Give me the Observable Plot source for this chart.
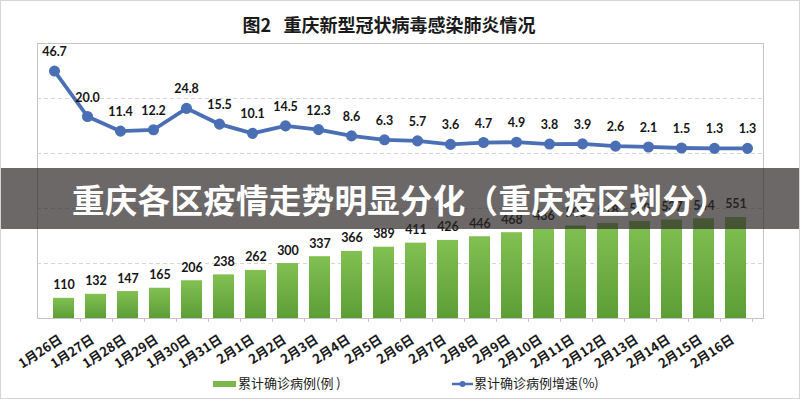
<!DOCTYPE html>
<html><head><meta charset="utf-8">
<script src="https://cdn.jsdelivr.net/npm/d3@7"></script>
<script src="https://cdn.jsdelivr.net/npm/@observablehq/plot@0.6"></script>
<style>
body{margin:0;background:#fff;overflow:hidden}
#wrap{position:relative;width:800px;height:399px;overflow:hidden;background:#fff;font-family:"Noto Sans CJK SC",sans-serif}
#wrap svg{position:absolute;left:0;top:0}
#title{position:absolute;left:0;width:778px;top:11px;text-align:center;font-size:18px;font-weight:bold;color:#1a1a1a;letter-spacing:0px}
#banner{position:absolute;left:0;top:168px;width:800px;height:61px;background:rgba(46,40,40,0.7);color:#fff;font-weight:bold;font-size:32.5px;line-height:61px;text-align:center;letter-spacing:0.3px}
.leg{position:absolute;top:373px;font-size:13px;color:#222;white-space:nowrap}
#border{position:absolute;left:0;top:0;width:798px;height:397px;border:1px solid #d4d4d4;pointer-events:none}
</style></head><body><div id="wrap"><div id="title">图2&nbsp;&nbsp;&nbsp;重庆新型冠状病毒感染肺炎情况</div></div>
<script>
const dates = ["1月26日","1月27日","1月28日","1月29日","1月30日","1月31日","2月1日","2月2日","2月3日","2月4日","2月5日","2月6日","2月7日","2月8日","2月9日","2月10日","2月11日","2月12日","2月13日","2月14日","2月15日","2月16日"];
const cases = [110,132,147,165,206,238,262,300,337,366,389,411,426,446,468,486,505,518,529,537,544,551];
const growth = [46.7,20.0,11.4,12.2,24.8,15.5,10.1,14.5,12.3,8.6,6.3,5.7,3.6,4.7,4.9,3.8,3.9,2.6,2.1,1.5,1.3,1.3];
const gridTicks = [300,600,900,1200];
const barLegend = "累计确诊病例(例 )";
const lineLegend = "累计确诊病例增速(%)";
const bannerText = "重庆各区疫情走势明显分化（重庆疫区划分）";

const table = dates.map((d,i)=>({date:d, cases:cases[i], growth:growth[i]}));

const W = 800, H = 399;
const M = {top:43, bottom:81, left:37, right:37};

const defs = () => {
  const g = d3.create("svg:defs");
  const lg = g.append("linearGradient").attr("id","barGrad").attr("x1",0).attr("y1",0).attr("x2",0).attr("y2",1);
  lg.append("stop").attr("offset","0%").attr("stop-color","#82c052");
  lg.append("stop").attr("offset","100%").attr("stop-color","#5c9d36");
  return g.node();
};

const bars = Plot.plot({
  width: W, height: H,
  marginTop: M.top, marginBottom: M.bottom, marginLeft: M.left, marginRight: M.right,
  style: {fontFamily: '"Noto Sans CJK SC", sans-serif', background: "transparent"},
  x: {domain: dates, padding: 0.33, label: null},
  y: {domain: [0, 1500], axis: null},
  marks: [
    defs,
    Plot.gridY(gridTicks, {stroke: "#d6d6d6", strokeOpacity: 1, strokeDasharray: "4,3"}),
    Plot.barY(table, {x: "date", y: "cases", fill: "url(#barGrad)"}),
    Plot.text(table, {x: "date", y: "cases", text: d => String(d.cases), dy: -13, fontSize: 12.5, fontWeight: "bold", fill: "#151515", fontFamily: "Lato, sans-serif"}),
    Plot.frame({stroke: "#c4c4c4"}),
    Plot.axisX({tickRotate: -33, tickSize: 0, tickPadding: 20, dx: -3, fontSize: 13, fontWeight: "bold", fill: "#1a1a1a", label: null}),
    Plot.axisX({text: null, tickSize: 4, dx: 16.5, stroke: "#c4c4c4", label: null})
  ]
});
document.getElementById("wrap").appendChild(bars);

const line = Plot.plot({
  width: W, height: H,
  marginTop: M.top, marginBottom: M.bottom, marginLeft: M.left, marginRight: M.right,
  style: {background: "transparent", fontFamily: "Lato, sans-serif"},
  x: {type: "point", domain: dates, padding: 0.5, axis: null},
  y: {domain: [-98.7, 62.9], axis: null},
  marks: [
    Plot.line(table, {x: "date", y: "growth", stroke: "#4a6fb5", strokeWidth: 3.8}),
    Plot.dot(table, {x: "date", y: "growth", r: 4.8, fill: "#4a6fb5", stroke: "#4a6fb5"}),
    Plot.text(table, {x: "date", y: "growth", text: d => d.growth.toFixed(1), dy: -19, fontSize: 12.5, fontWeight: "bold", fill: "#151515"})
  ]
});
document.getElementById("wrap").appendChild(line);

const wrap = document.getElementById("wrap");
const banner = document.createElement("div");
banner.id = "banner"; banner.textContent = bannerText;
wrap.appendChild(banner);

const l1 = document.createElement("div");
l1.className = "leg"; l1.style.left = "213px";
l1.innerHTML = '<span style="display:inline-block;width:23px;height:6px;background:#7ab648;vertical-align:middle;margin-right:2px"></span>' + barLegend;
wrap.appendChild(l1);

const l2 = document.createElement("div");
l2.className = "leg"; l2.style.left = "452px";
l2.innerHTML = '<svg width="21" height="10" style="position:relative;vertical-align:middle;margin-right:1px"><line x1="0" x2="21" y1="5" y2="5" stroke="#4a6fb5" stroke-width="2.5"/><circle cx="10.5" cy="5" r="3" fill="#4a6fb5"/></svg>' + lineLegend;
wrap.appendChild(l2);

const b = document.createElement("div"); b.id = "border"; wrap.appendChild(b);
</script>
</body></html>
